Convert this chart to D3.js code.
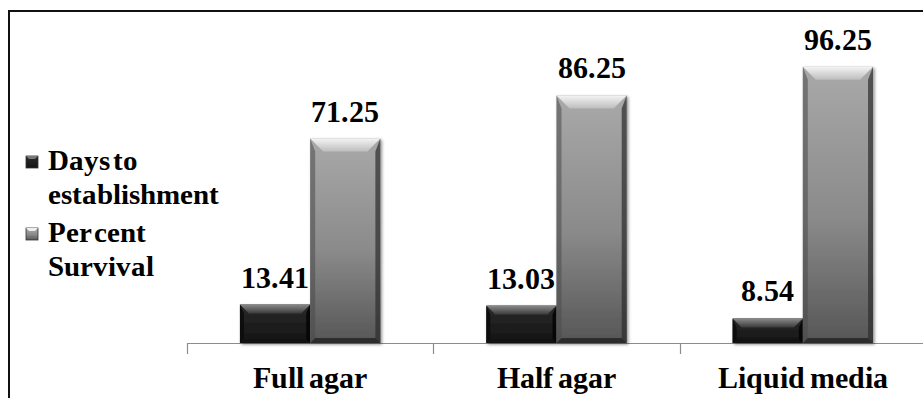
<!DOCTYPE html>
<html>
<head>
<meta charset="utf-8">
<script src="https://cdn.jsdelivr.net/npm/d3@7"></script>
<style>
  @font-face {
    font-family: "ChartSerif";
    src: local("Liberation Serif Bold"), local("LiberationSerif-Bold"), local("Times New Roman Bold"), local("TimesNewRomanPS-BoldMT");
    font-weight: bold;
  }
  @font-face {
    font-family: "ChartSerif";
    src: local("Liberation Serif Bold"), local("LiberationSerif-Bold");
    font-weight: normal;
  }
</style>
</head>
<body style="margin:0">
<svg id="chart" width="923" height="398"></svg>
<script>
// Establishment data for three culture media
const categories = ["Full agar", "Half agar", "Liquid media"];
const seriesNames = ["Days to establishment", "Per cent Survival"];
const daysToEstablishment = [13.41, 13.03, 8.54];
const perCentSurvival = [71.25, 86.25, 96.25];
const legendLines = [["Days to", "establishment"], ["Per cent", "Survival"]];

const FONT = "ChartSerif, Liberation Serif, Times New Roman, serif";

const svg = d3.select("#chart");
const W = 923, H = 398;

const plot = { left: 187, right: 926, top: 56, bottom: 343 };

const x = d3.scaleBand().domain(categories).range([plot.left, plot.right]).padding(0);
const bw = x.bandwidth();
const xSub = d3.scaleBand().domain(seriesNames).range([bw * 0.215, bw * 0.785]).padding(0);
const y = d3.scaleLinear().domain([0, 100]).range([plot.bottom, plot.top]);

function serif(sel, size) {
  return sel.style("font-family", FONT)
    .style("font-weight", "bold")
    .style("font-size", size + "px")
    .attr("fill", "#000");
}

const defs = svg.append("defs");

// body gradients
const gDark = defs.append("linearGradient").attr("id", "gDark").attr("x1", 0).attr("y1", 0).attr("x2", 0).attr("y2", 1);
gDark.append("stop").attr("offset", "0%").attr("stop-color", "#2a2a2a");
gDark.append("stop").attr("offset", "100%").attr("stop-color", "#141414");

const gLight = defs.append("linearGradient").attr("id", "gLight").attr("x1", 0).attr("y1", 0).attr("x2", 0).attr("y2", 1);
gLight.append("stop").attr("offset", "0%").attr("stop-color", "#a9a9a9");
gLight.append("stop").attr("offset", "55%").attr("stop-color", "#8a8a8a");
gLight.append("stop").attr("offset", "100%").attr("stop-color", "#565656");

const topDark = defs.append("linearGradient").attr("id", "topDark").attr("x1", 0).attr("y1", 0).attr("x2", 0).attr("y2", 1);
topDark.append("stop").attr("offset", "0%").attr("stop-color", "#8a8a8a");
topDark.append("stop").attr("offset", "100%").attr("stop-color", "#3a3a3a");

const topLight = defs.append("linearGradient").attr("id", "topLight").attr("x1", 0).attr("y1", 0).attr("x2", 0).attr("y2", 1);
topLight.append("stop").attr("offset", "0%").attr("stop-color", "#f4f4f4");
topLight.append("stop").attr("offset", "100%").attr("stop-color", "#bdbdbd");

const shadow = defs.append("filter").attr("id", "shadow").attr("x", "-10%").attr("y", "-10%").attr("width", "130%").attr("height", "130%");
shadow.append("feDropShadow").attr("dx", 1.5).attr("dy", 1.5).attr("stdDeviation", 1.5).attr("flood-color", "#000").attr("flood-opacity", 0.45);

// outer frame
svg.append("path")
  .attr("d", `M9,${H + 5} L9,11 L${W + 5},11`)
  .attr("fill", "none").attr("stroke", "#111").attr("stroke-width", 2);

// category axis
svg.append("line")
  .attr("x1", plot.left).attr("x2", W).attr("y1", plot.bottom + 0.5).attr("y2", plot.bottom + 0.5)
  .attr("stroke", "#8c8c8c").attr("stroke-width", 1.2);
const tickXs = categories.map(c => x(c));
svg.selectAll(".tick").data(tickXs).join("line")
  .attr("x1", d => Math.round(d) + 0.5).attr("x2", d => Math.round(d) + 0.5)
  .attr("y1", plot.bottom).attr("y2", plot.bottom + 11)
  .attr("stroke", "#8c8c8c").attr("stroke-width", 1.2);

// bars
const rows = [];
categories.forEach((c, i) => {
  rows.push({ cat: c, s: seriesNames[0], v: daysToEstablishment[i], dark: true });
  rows.push({ cat: c, s: seriesNames[1], v: perCentSurvival[i], dark: false });
});

const bars = svg.append("g").selectAll("g.bar").data(rows).join("g").attr("class", "bar");

bars.each(function (d) {
  const g = d3.select(this);
  const x0 = x(d.cat) + xSub(d.s);
  const w = xSub.bandwidth();
  const y0 = y(d.v);
  const y1 = y(0);
  const h = y1 - y0;
  const bev = d.dark ? 9 : 13;
  const side = d.dark ? 4 : 5;

  g.append("rect")
    .attr("x", x0).attr("y", y0).attr("width", w).attr("height", h)
    .attr("fill", d.dark ? "url(#gDark)" : "url(#gLight)")
    .attr("filter", "url(#shadow)");

  // top bevel
  g.append("path")
    .attr("d", `M${x0},${y0} L${x0 + w},${y0} L${x0 + w - bev},${y0 + bev} L${x0 + bev},${y0 + bev} Z`)
    .attr("fill", d.dark ? "url(#topDark)" : "url(#topLight)");
  // side bevels
  g.append("path")
    .attr("d", `M${x0},${y0} L${x0 + side},${y0 + bev} L${x0 + side},${y1 - side} L${x0},${y1} Z`)
    .attr("fill", d.dark ? "#0c0c0c" : "#4a4a4a").attr("opacity", d.dark ? 0.9 : 0.55);
  g.append("path")
    .attr("d", `M${x0 + w},${y0} L${x0 + w - side},${y0 + bev} L${x0 + w - side},${y1 - side} L${x0 + w},${y1} Z`)
    .attr("fill", d.dark ? "#050505" : "#2c2c2c").attr("opacity", d.dark ? 0.9 : 0.7);
  // bottom bevel
  g.append("path")
    .attr("d", `M${x0},${y1} L${x0 + side},${y1 - side} L${x0 + w - side},${y1 - side} L${x0 + w},${y1} Z`)
    .attr("fill", "#111").attr("opacity", 0.6);
});

// value labels
svg.selectAll("text.value").data(rows).join("text")
  .attr("class", "value")
  .attr("x", d => x(d.cat) + xSub(d.s) + xSub.bandwidth() / 2)
  .attr("y", d => y(d.v) - 17)
  .attr("text-anchor", "middle")
  .call(serif, 30)
  .text(d => d.v.toFixed(2));

// category labels
svg.selectAll("text.cat").data(categories).join("text")
  .attr("class", "cat")
  .attr("x", d => x(d) + bw / 2)
  .attr("y", 388)
  .attr("text-anchor", "middle")
  .call(serif, 30)
  .style("word-spacing", "-3px")
  .text(d => d);

// legend
const legendTop = [170, 242];
legendLines.forEach((lines, i) => {
  const by = legendTop[i];
  svg.append("rect")
    .attr("x", 26).attr("y", by - 14).attr("width", 12).attr("height", 12)
    .attr("fill", i === 0 ? "url(#gDark)" : "url(#gLight)")
    .attr("stroke", "#333").attr("stroke-width", 0.8);
  svg.append("path")
    .attr("d", `M26,${by - 14} L38,${by - 14} L35,${by - 11} L29,${by - 11} Z`)
    .attr("fill", i === 0 ? "#777" : "#eee");
  lines.forEach((t, j) => {
    svg.append("text")
      .attr("x", 48).attr("y", by + j * 34)
      .call(serif, 29)
      .style("word-spacing", "-4px")
      .text(t);
  });
});
</script>
</body>
</html>
